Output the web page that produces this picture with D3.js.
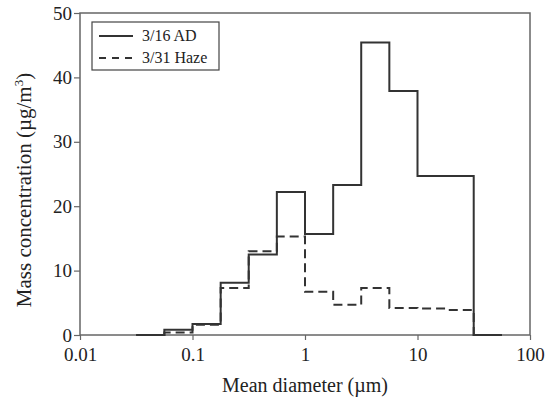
<!DOCTYPE html>
<html><head><meta charset="utf-8">
<script src="https://cdn.jsdelivr.net/npm/d3@7"></script>
<style>body{margin:0;background:#fff}svg text{font-family:"Liberation Serif","Times New Roman",serif;fill:#222}</style>
</head><body><svg id="c" width="549" height="400"></svg>
<script>
const binEdges = [0.0316, 0.0562, 0.1, 0.178, 0.316, 0.562, 1, 1.78, 3.16, 5.62, 10, 17.8, 31.6, 56.2];
const adValues = [0, 0.8, 1.7, 8.1, 12.5, 22.2, 15.7, 23.3, 45.4, 37.9, 24.7, 24.7, 0];
const hazeValues = [0, 0.4, 1.6, 7.3, 13.0, 15.3, 6.7, 4.7, 7.3, 4.2, 4.1, 3.9, 0];
const xTicks = [0.01, 0.1, 1, 10, 100];
const xTickLabels = ["0.01", "0.1", "1", "10", "100"];
const yTicks = [0, 10, 20, 30, 40, 50];
const seriesNames = ["3/16 AD", "3/31 Haze"];

const svg = d3.select("#c");
const m = {l: 80, r: 20, t: 13, b: 65};
const x = d3.scaleLog().domain([0.01, 100]).range([m.l, 530]);
const y = d3.scaleLinear().domain([0, 50]).range([335, m.t]);

const gx = svg.append("g").attr("transform", "translate(0,335)")
  .call(d3.axisBottom(x).tickValues(xTicks).tickFormat((d, i) => xTickLabels[i]).tickSize(5).tickPadding(8));
const gy = svg.append("g").attr("transform", `translate(${m.l},0)`)
  .call(d3.axisLeft(y).tickValues(yTicks).tickSize(6).tickPadding(2));
[gx, gy].forEach(g => {
  g.selectAll("path.domain").remove();
  g.selectAll("line").attr("stroke", "#666").attr("stroke-width", 1.2);
  g.selectAll("text").style("font-size", "19px").attr("fill", "#222");
});
svg.append("rect").attr("x", x(0.01)).attr("y", y(50)).attr("width", x(100) - x(0.01)).attr("height", y(0) - y(50))
  .attr("fill", "none").attr("stroke", "#666").attr("stroke-width", 1.5);

function pts(vals) {
  const p = vals.map((v, i) => [binEdges[i], v]);
  p.push([binEdges[binEdges.length - 1], vals[vals.length - 1]]);
  return p;
}
const line = d3.line().x(d => x(d[0])).y(d => y(d[1])).curve(d3.curveStepAfter);
svg.append("path").attr("d", line(pts(hazeValues))).attr("fill", "none").attr("stroke", "#333")
  .attr("stroke-width", 2).attr("stroke-dasharray", "9,5");
svg.append("path").attr("d", line(pts(adValues))).attr("fill", "none").attr("stroke", "#333")
  .attr("stroke-width", 2);

const lg = svg.append("g");
lg.append("rect").attr("x", 92).attr("y", 22).attr("width", 127).attr("height", 48)
  .attr("fill", "#fff").attr("stroke", "#444").attr("stroke-width", 1.2);
seriesNames.forEach((n, i) => {
  const yy = 36 + i * 22;
  lg.append("line").attr("x1", 99).attr("x2", 133).attr("y1", yy).attr("y2", yy)
    .attr("stroke", "#333").attr("stroke-width", 2).attr("stroke-dasharray", i ? "7,6" : null);
  lg.append("text").attr("x", 142).attr("y", yy + 5).style("font-size", "16px").text(n);
});

svg.append("text").attr("x", 305).attr("y", 392).attr("text-anchor", "middle").style("font-size", "20px")
  .text("Mean diameter (µm)");
const yt = svg.append("text").attr("transform", "translate(31,190) rotate(-90)").attr("text-anchor", "middle")
  .style("font-size", "21px");
yt.append("tspan").text("Mass concentration (µg/m");
yt.append("tspan").attr("dy", -8).style("font-size", "13px").text("3");
yt.append("tspan").attr("dy", 8).text(")");
</script></body></html>
